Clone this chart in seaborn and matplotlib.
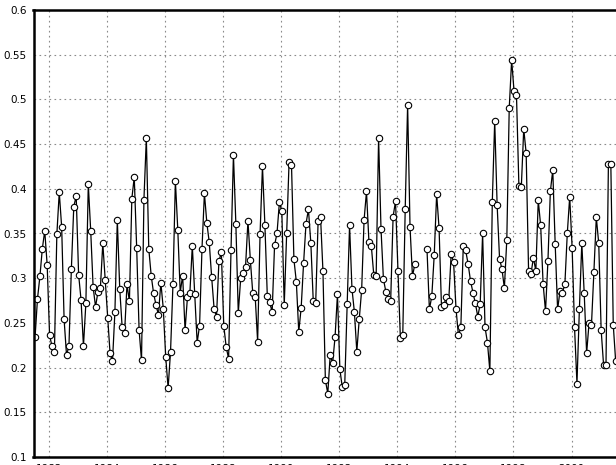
import numpy as np
import pandas as pd
import matplotlib
matplotlib.use("Agg")
import matplotlib.pyplot as plt
import seaborn as sns

# monthly values, starting mid 1981; None = missing months
values = [
    0.234, 0.277, 0.302, 0.333, 0.353, 0.315, 0.236, 0.224, 0.218, 0.349,
    0.396, 0.357, 0.254, 0.214, 0.224, 0.310, 0.380, 0.392, 0.304, 0.276,
    0.224, 0.272, 0.405, 0.353, 0.290, 0.268, 0.285, 0.289, 0.339, 0.298,
    0.256, 0.216, 0.207, 0.262, 0.365, 0.288, 0.245, 0.239, 0.293, 0.274,
    0.389, 0.413, 0.334, 0.242, 0.208, 0.388, 0.457, 0.333, 0.303, 0.283,
    0.270, 0.259, 0.295, 0.266, 0.212, 0.177, 0.218, 0.293, 0.409, 0.354,
    0.284, 0.303, 0.242, 0.279, 0.284, 0.336, 0.282, 0.228, 0.247, 0.333,
    0.395, 0.362, 0.340, 0.301, 0.266, 0.257, 0.319, 0.329, 0.247, 0.223,
    0.210, 0.332, 0.438, 0.361, 0.261, 0.300, 0.306, 0.313, 0.364, 0.320,
    0.283, 0.279, 0.229, 0.349, 0.425, 0.360, 0.280, 0.273, 0.262, 0.337,
    0.350, 0.385, 0.375, 0.270, 0.350, 0.430, 0.427, 0.321, 0.296, 0.240,
    0.267, 0.317, 0.361, 0.377, 0.339, 0.274, 0.272, 0.364, 0.369, 0.308,
    0.186, 0.171, 0.214, 0.205, 0.234, 0.282, 0.198, 0.178, 0.180, 0.271,
    0.359, 0.288, 0.262, 0.218, 0.254, 0.287, 0.365, 0.397, 0.341, 0.336,
    0.304, 0.303, 0.457, 0.355, 0.299, 0.285, 0.277, 0.275, 0.369, 0.386,
    0.308, 0.233, 0.237, 0.377, 0.494, 0.357, 0.302, 0.316, None, None,
    None, None, 0.333, 0.265, 0.280, 0.326, 0.394, 0.356, 0.268, 0.270,
    0.279, 0.275, 0.327, 0.318, 0.266, 0.236, 0.245, 0.336, 0.331, 0.316,
    0.297, 0.284, 0.272, 0.257, 0.271, 0.350, 0.245, 0.228, 0.196, 0.385,
    0.476, 0.382, 0.322, 0.310, 0.289, 0.343, 0.490, 0.544, 0.509, 0.505,
    0.403, 0.402, 0.467, 0.440, 0.308, 0.305, 0.323, 0.308, 0.387, 0.359,
    0.294, 0.263, 0.319, 0.397, 0.421, 0.338, 0.265, 0.286, 0.284, 0.293,
    0.350, 0.391, 0.334, 0.245, 0.182, 0.265, 0.339, 0.283, 0.216, 0.250,
    0.248, 0.307, 0.368, 0.339, 0.242, 0.203, 0.203, 0.428, 0.428, 0.248,
    0.207,
]
start_year = 1981.52
year_ticks = [1982, 1984, 1986, 1988, 1990, 1992, 1994, 1996, 1998, 2000]
y_ticks = [0.1, 0.15, 0.2, 0.25, 0.3, 0.35, 0.4, 0.45, 0.5, 0.55, 0.6]
y_labels = ["0.1", "0.15", "0.2", "0.25", "0.3", "0.35", "0.4", "0.45", "0.5", "0.55", "0.6"]

df = pd.DataFrame({"year": start_year + np.arange(len(values)) / 12.0,
                   "value": pd.array(values, dtype="Float64").astype(float)})
# separate runs so the gap stays open
df["seg"] = df["value"].isna().cumsum()
df = df.dropna()

sns.set_style("white")
plt.rcParams["font.family"] = ["DejaVu Sans"]

fig = plt.figure(figsize=(6.16, 4.65), dpi=100)
ax = fig.add_axes([33.5 / 616, 8 / 465, (616 - 33.5) / 616, 447 / 465])

sns.lineplot(data=df, x="year", y="value", units="seg", estimator=None,
             color="black", linewidth=0.9, marker="o", markersize=4.6,
             markerfacecolor="white", markeredgecolor="black",
             markeredgewidth=0.8, ax=ax, legend=False)

ax.set_xlim(1981.466, 1982 + (616 - 49) / 29.03)
ax.set_ylim(0.1, 0.6)
ax.set_xticks(year_ticks)
ax.set_xticklabels([str(y) for y in year_ticks])
ax.set_yticks(y_ticks)
ax.set_yticklabels(y_labels)
ax.set_xlabel("")
ax.set_ylabel("")

ax.grid(True, linestyle=(0, (1.5, 3)), color="#8a8a8a", linewidth=0.8)
ax.tick_params(axis="both", labelsize=7.5, length=3, width=1, pad=2,
               colors="black", direction="out")
for side in ["left", "top", "bottom"]:
    ax.spines[side].set_linewidth(1.8)
    ax.spines[side].set_color("black")
ax.spines["right"].set_visible(False)

fig.savefig("out.png", dpi=100)
